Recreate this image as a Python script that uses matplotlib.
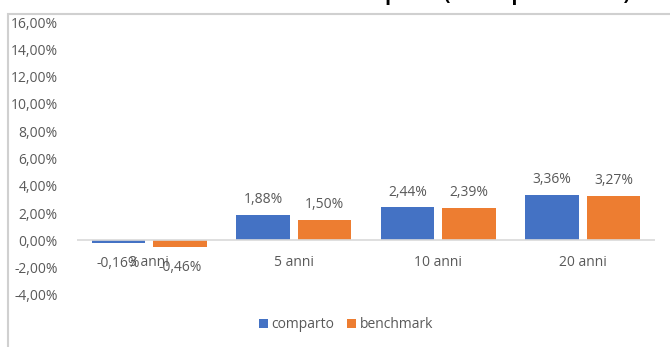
import numpy as np
import matplotlib.pyplot as plt
from matplotlib.patches import Rectangle

plt.rcParams['font.family'] = ['Open Sans', 'DejaVu Sans']

#data
periodi = ['3 anni', '5 anni', '10 anni', '20 anni']
comparto = [-0.16, 1.88, 2.44, 3.36]
benchmark = [-0.46, 1.50, 2.39, 3.27]
serie = ['comparto', 'benchmark']
colori = ['#4472C4', '#ED7D31']
grigio = '#595959'

fig = plt.figure(figsize=(6.7, 3.47), dpi=100)
ax = fig.add_axes([77/670, 1-295/347, 578/670, (295-22)/347])

#frame around the chart
fig.patches.append(Rectangle((8/670, -0.1), 1.0, 1-14/347+0.1, transform=fig.transFigure,
                             fill=False, edgecolor='#d0d0d0', lw=1.5))

#title, cut by the top edge
fig.text(630/670, 1.0, 'Rendimenti medi annui comparto (valori percentuali)', ha='right',
         va='baseline', fontsize=14, fontweight='bold', color='black')

x = np.arange(len(periodi))
w = 0.37
off = 0.028
for i, (vals, nome, c) in enumerate(zip([comparto, benchmark], serie, colori)):
    pos = x + (-1 if i == 0 else 1) * (w/2 + off)
    ax.bar(pos, vals, w, color=c, label=nome)
    for p, v in zip(pos, vals):
        testo = ('%.2f%%' % v).replace('.', ',')
        if v >= 0:
            ax.text(p, v + 0.55, testo, ha='center', va='bottom', fontsize=10, color=grigio)
        else:
            ax.text(p, v - 1.0, testo, ha='center', va='top', fontsize=10, color=grigio)

ax.axhline(0, color='#d9d9d9', lw=1.2)
ax.set_xlim(-0.5, 3.5)
ax.set_ylim(-4, 16)
ax.set_yticks(np.arange(-4, 17, 2))
ax.set_yticklabels([('%.2f%%' % t).replace('.', ',') for t in np.arange(-4, 17, 2)],
                   fontsize=10, color=grigio)
ax.set_xticks([])
for xi, lab in zip(x, periodi):
    ax.text(xi, -1.1, lab, ha='center', va='top', fontsize=10, color=grigio)
for s in ax.spines.values():
    s.set_visible(False)
ax.tick_params(axis='y', length=0, pad=14)

fig.legend(loc='center', bbox_to_anchor=(346/670, 1-325/347), ncol=2, frameon=False,
           fontsize=10, labelcolor=grigio, handlelength=0.65, handleheight=0.65,
           handletextpad=0.25, columnspacing=0.9)

plt.savefig('out.png', dpi=100)
